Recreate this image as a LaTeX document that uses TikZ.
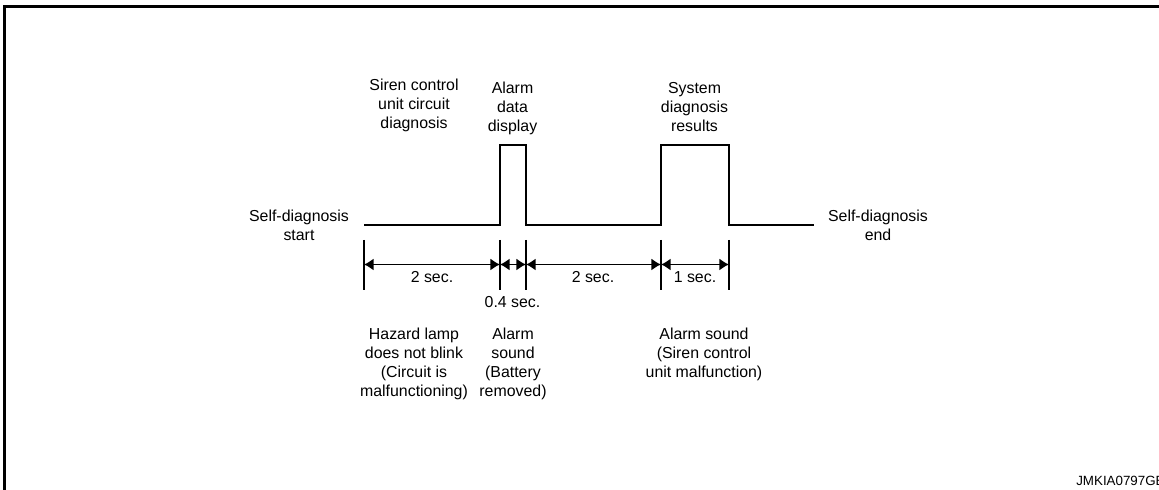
\documentclass[tikz,border=0pt]{standalone}
\usepackage{fontspec}
\setmainfont{Liberation Sans}
\usetikzlibrary{arrows.meta}

\begin{document}
\begin{tikzpicture}[
  x=0.025cm, y=-0.025cm,
  font=\fontsize{11.3}{13.5}\selectfont,
  >={Latex[length=2.4mm,width=3mm]},
  lbl/.style={align=center, inner sep=0pt},
  sig/.style={line width=1.1pt},
  mk/.style={line width=1pt},
  dim/.style={<->, line width=1pt},
]
\useasboundingbox (0,0) rectangle (1159,490);
\coordinate (fbl) at (4.5,490);
\coordinate (ftl) at (4.5,6.5);
\coordinate (ftr) at (1159,6.5);
\draw[line width=2.2pt] (fbl) -- (ftl) -- (ftr);
\foreach \n/\x in {0/364,1/500,2/526,3/661,4/729,5/814} {
  \coordinate (lo\n) at (\x,225);
  \coordinate (hi\n) at (\x,145);
}
\foreach \n/\x in {0/364,1/500,2/526,3/661,4/729} {
  \coordinate (ka\n) at (\x,240);
  \coordinate (kb\n) at (\x,290);
  \coordinate (dm\n) at (\x,264.5);
  \draw[mk] (ka\n) -- (kb\n);
}
\draw[sig] (lo0) -- (lo1) -- (hi1) -- (hi2) -- (lo2) -- (lo3) -- (hi3) -- (hi4) -- (lo4) -- (lo5);
\draw[dim] (dm0) -- (dm1);
\draw[dim] (dm1) -- (dm2);
\draw[dim] (dm2) -- (dm3);
\draw[dim] (dm3) -- (dm4);
\node[lbl] (sec1) at (432,277.5) {2 sec.};
\node[lbl] (sec2) at (512.5,302) {0.4 sec.};
\node[lbl] (sec3) at (593,277.5) {2 sec.};
\node[lbl] (sec4) at (695,277.5) {1 sec.};
\node[lbl] (start) at (299,225.5) {Self-diagnosis\\start};
\node[lbl] (end) at (878,225.5) {Self-diagnosis\\end};
\node[lbl] (siren) at (414,105) {Siren control\\unit circuit\\diagnosis};
\node[lbl] (data) at (512.5,108) {Alarm\\data\\display};
\node[lbl] (result) at (694.5,107) {System\\diagnosis\\results};
\node[lbl] (hazard) at (414,364) {Hazard lamp\\does not blink\\(Circuit is\\malfunctioning)};
\node[lbl] (battery) at (513,364) {Alarm\\sound\\(Battery\\removed)};
\node[lbl] (sound) at (704,354.5) {Alarm sound\\(Siren control\\unit malfunction)};
\node[lbl, anchor=base west, font=\fontsize{9.5}{11}\selectfont] (code) at (1076,486) {JMKIA0797GE};
\end{tikzpicture}
\end{document}
